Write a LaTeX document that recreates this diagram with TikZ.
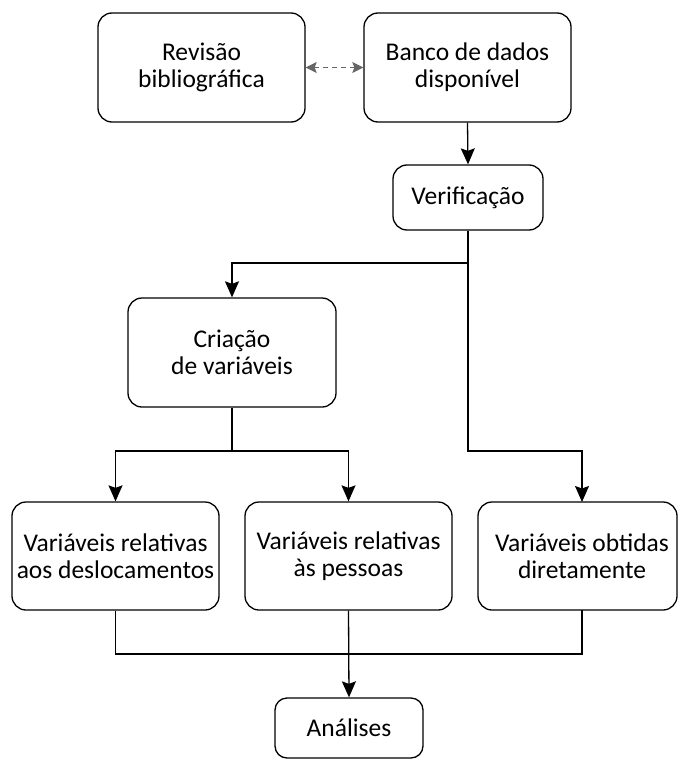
\documentclass[tikz,border=0pt]{standalone}
\usepackage{fontspec}
\setmainfont{Carlito}
\usetikzlibrary{arrows.meta}
\begin{document}
\begin{tikzpicture}[x=1pt,y=-1pt,
  box/.style={draw, line width=1.3pt, rounded corners=14pt, align=center, inner sep=0pt,
    font=\fontsize{25.5}{27}\selectfont},
  arr/.style={line width=1.3pt, -{Stealth[length=16pt,width=14pt,inset=2.5pt]}},
  ln/.style={line width=1.3pt},
  dasharr/.style={line width=1.5pt, draw=black!60, dash pattern=on 5pt off 4pt,
    {Stealth[length=11pt,width=11pt,inset=2pt,fill=black!60]}-{Stealth[length=11pt,width=11pt,inset=2pt,fill=black!60]}}]
\useasboundingbox (0,0) rectangle (678,760);
\node[box, minimum width=207pt, minimum height=109pt] (rev) at (201.5,67.5) {Revisão\\bibliográfica};
\node[box, minimum width=207pt, minimum height=109pt] (ban) at (467.5,67.5) {Banco de dados\\disponível};
\node[box, minimum width=150pt, minimum height=65pt] (ver) at (468,197.5) {Verificação};
\node[box, minimum width=208pt, minimum height=109pt] (cri) at (232,352.5) {Criação\\de variáveis};
\node[box, minimum width=207pt, minimum height=108pt] (va) at (115.5,556) {Variáveis relativas\\aos deslocamentos};
\node[box, minimum width=207pt, minimum height=108pt] (vb) at (348.5,556) {Variáveis relativas\\às pessoas};
\node[box, minimum width=199pt, minimum height=108pt] (vc) at (577.5,556) {\hspace*{9pt}Variáveis obtidas\\\hspace*{9pt}diretamente};
\node[box, rounded corners=12pt, minimum width=148pt, minimum height=60pt] (ana) at (349,728) {Análises};
\coordinate (j1) at (468,263);
\coordinate (j2) at (468,451);
\coordinate (vctop) at (582,502);
\coordinate (vcbot) at (582,610);
\coordinate (j3) at (232,451);
\coordinate (j4) at (115.5,654);
\draw[dasharr] (rev.east) -- (ban.east -| ban.west);
\draw[arr] (ban.south) -- (ver.north);
\draw[ln] (ver.south) -- (j1);
\draw[arr] (j1) -| (cri.north);
\draw[arr] (j1) -- (j2) -| (vctop);
\draw[ln] (cri.south) -- (j3);
\draw[arr] (j3) -| (va.north);
\draw[arr] (j3) -| (vb.north);
\draw[ln] (va.south) -- (j4) -| (vcbot);
\draw[arr] (vb.south) -- (ana.north);
\end{tikzpicture}
\end{document}
